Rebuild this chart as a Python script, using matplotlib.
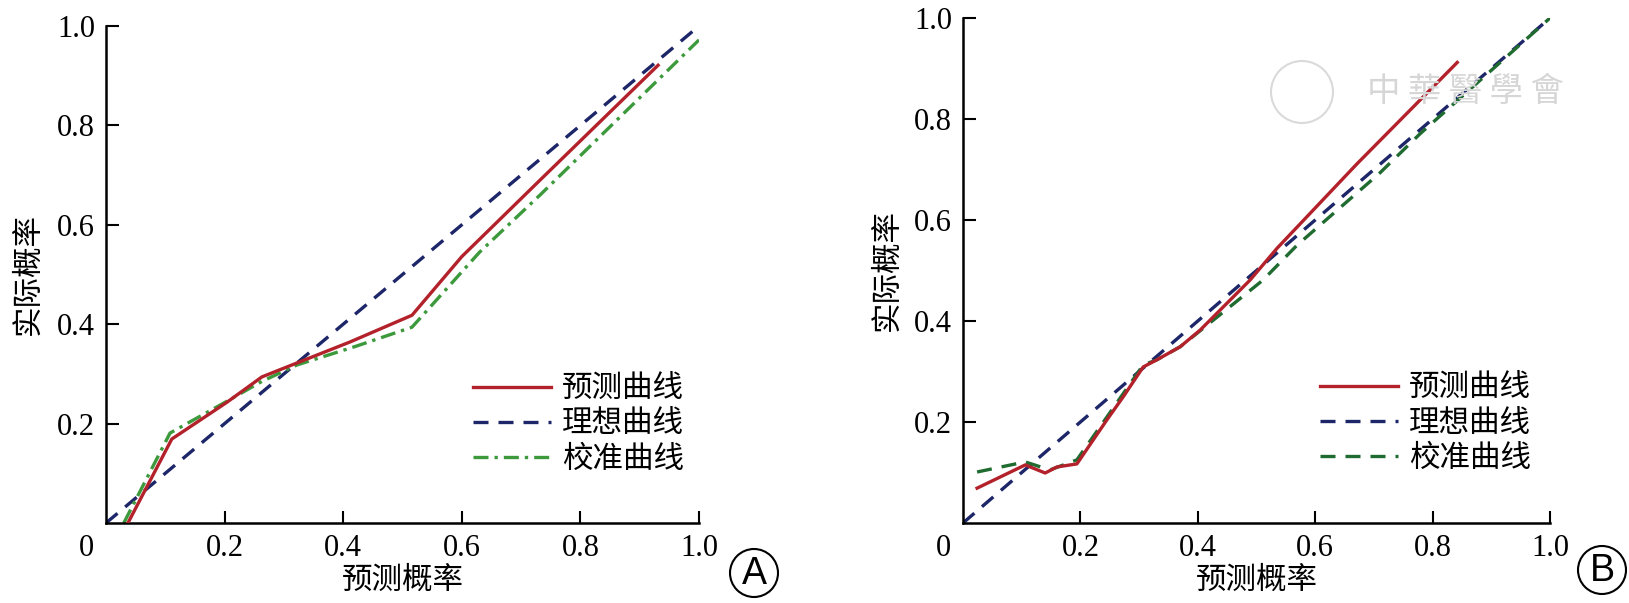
import matplotlib
matplotlib.use("Agg")
import matplotlib.pyplot as plt
from matplotlib.patches import Ellipse

plt.rcParams['font.family'] = ['Liberation Serif', 'Noto Sans CJK SC', 'DejaVu Sans']

# ---- data ----
legend_labels = ["预测曲线", "理想曲线", "校准曲线"]
ticks = [0.2, 0.4, 0.6, 0.8, 1.0]
tick_labels = ["0.2", "0.4", "0.6", "0.8", "1.0"]

# panel A
pred_x_A = [0.037, 0.111, 0.204, 0.263, 0.322, 0.411, 0.516, 0.600, 0.732, 0.931]
pred_y_A = [0.000, 0.169, 0.243, 0.294, 0.322, 0.364, 0.418, 0.536, 0.690, 0.921]
ideal_x_A = [0.0, 1.0]
ideal_y_A = [0.0, 1.0]
calib_x_A = [0.030, 0.108, 0.204, 0.263, 0.322, 0.420, 0.516, 0.630, 0.732, 1.000]
calib_y_A = [0.000, 0.181, 0.245, 0.285, 0.318, 0.355, 0.394, 0.545, 0.660, 0.972]

# panel B
pred_x_B = [0.024, 0.106, 0.140, 0.160, 0.194, 0.245, 0.273, 0.307, 0.330, 0.370,
            0.404, 0.489, 0.535, 0.671, 0.842]
pred_y_B = [0.069, 0.115, 0.099, 0.111, 0.117, 0.204, 0.250, 0.309, 0.323, 0.349,
            0.382, 0.481, 0.544, 0.711, 0.912]
ideal_x_B = [0.0, 1.0]
ideal_y_B = [0.0, 1.0]
calib_x_B = [0.024, 0.106, 0.148, 0.194, 0.250, 0.307, 0.330, 0.370, 0.399, 0.511,
             0.569, 0.710, 0.778, 1.000]
calib_y_B = [0.101, 0.121, 0.105, 0.125, 0.218, 0.313, 0.323, 0.349, 0.376, 0.481,
             0.550, 0.693, 0.770, 1.000]

RED = "#b3212b"
NAVY = "#1d2668"
GREEN_A = "#3c9a3c"
GREEN_B = "#1f6b30"

W, H = 1629, 603
fig = plt.figure(figsize=(W / 100, H / 100), dpi=100)


def px(x, y):
    return x / W, 1 - y / H


def setup(ax):
    ax.set_xlim(0, 1)
    ax.set_ylim(0, 1)
    for s in ("top", "right"):
        ax.spines[s].set_visible(False)
    for s in ("left", "bottom"):
        ax.spines[s].set_linewidth(1.8)
    ax.set_xticks(ticks, tick_labels)
    ax.set_yticks(ticks, tick_labels)
    ax.tick_params(direction="in", length=9, width=1.5, labelsize=22, pad=8)
    ax.set_xlabel("预测概率", fontsize=22, labelpad=3)
    ax.set_ylabel("实际概率", fontsize=22)
    ax.annotate("0", xy=(0, 0), xytext=(-20, -25), textcoords="offset pixels",
                ha="center", va="center", fontsize=22)


# ---- panel A ----
axA = fig.add_axes([106 / W, 1 - 523 / H, 593 / W, 497 / H])
setup(axA)
axA.plot(pred_x_A, pred_y_A, color=RED, lw=2.4, label=legend_labels[0], zorder=3)
axA.plot(ideal_x_A, ideal_y_A, color=NAVY, lw=2.4, ls=(0, (4.5, 3)), label=legend_labels[1])
axA.plot(calib_x_A, calib_y_A, color=GREEN_A, lw=2.4, ls=(0, (4.5, 1.8, 1, 1.8)),
         label=legend_labels[2], zorder=2)
axA.yaxis.set_label_coords(*px(44, 274), transform=fig.transFigure)
axA.legend(loc="center left", bbox_to_anchor=px(473, 425), bbox_transform=fig.transFigure,
           frameon=False, fontsize=22, handlelength=2.55, handletextpad=0.35,
           labelspacing=0.2, borderpad=0, borderaxespad=0)

# ---- panel B ----
axB = fig.add_axes([963 / W, 1 - 523 / H, 587 / W, 505 / H])
setup(axB)
axB.plot(pred_x_B, pred_y_B, color=RED, lw=2.4, label=legend_labels[0], zorder=3)
axB.plot(ideal_x_B, ideal_y_B, color=NAVY, lw=2.4, ls=(0, (4.5, 3)), label=legend_labels[1])
axB.plot(calib_x_B, calib_y_B, color=GREEN_B, lw=2.4, ls=(0, (4.5, 3)),
         label=legend_labels[2], zorder=2)
axB.yaxis.set_label_coords(*px(903, 270), transform=fig.transFigure)
axB.legend(loc="center left", bbox_to_anchor=px(1320, 424), bbox_transform=fig.transFigure,
           frameon=False, fontsize=22, handlelength=2.55, handletextpad=0.35,
           labelspacing=0.2, borderpad=0, borderaxespad=0)

# faint watermark in panel B
fig.add_artist(Ellipse(px(1302, 92), 62 / W, 62 / H, transform=fig.transFigure,
                       fill=False, ec="#dadada", lw=1.5))
fig.text(*px(1465, 92), "中 華 醫 學 會", fontsize=24, color="#d6d6d6",
         ha="center", va="center", family=["Noto Sans CJK TC"])

# circled panel letters
for letter, (cx, cy) in (("A", (754, 573)), ("B", (1602, 570))):
    fig.add_artist(Ellipse(px(cx, cy), 48 / W, 48 / H, transform=fig.transFigure,
                           fill=False, ec="black", lw=1.5))
    fig.text(*px(cx, cy + 1), letter, fontsize=27, ha="center", va="center",
             family=["Liberation Sans"])

fig.savefig("out.png", dpi=100)
